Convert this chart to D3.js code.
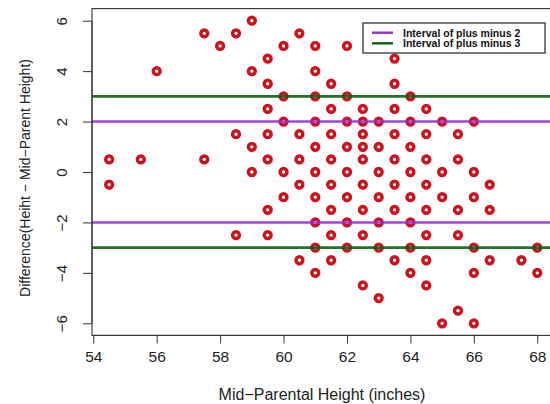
<!DOCTYPE html>
<html>
<head>
<meta charset="utf-8">
<script src="https://cdn.jsdelivr.net/npm/d3@7"></script>
<style>
	html, body { margin: 0; padding: 0; background: #fff; }
	svg { display: block; font-family: "Liberation Sans", Arial, Helvetica, sans-serif; }
</style>
</head>
<body>
<svg id="chart" width="550" height="404"></svg>
<script>
// chart size
const svgWidth = 550;
const svgHeight = 404;

// data: mid-parental height vs difference, one row per difference level
const midParent = [
	59,
	57.5, 58.5, 60.5,
	58, 60, 61, 62,
	59.5, 63.5,
	56, 59, 61,
	59.5, 61.5, 63.5,
	60, 61, 62, 64,
	59.5, 61.5, 62.5, 63.5, 64.5,
	60, 61, 62, 62.5, 63, 64, 65, 66,
	58.5, 59.5, 60.5, 61.5, 62.5, 63.5, 64.5, 65.5,
	59, 61, 62, 62.5, 63, 64,
	54.5, 55.5, 57.5, 59.5, 60.5, 61.5, 62.5, 63.5, 64.5, 65.5,
	59, 60, 61, 62, 63, 64, 65, 66,
	54.5, 60.5, 61.5, 62.5, 63.5, 64.5, 66.5,
	60, 61, 62, 63, 64, 65, 66,
	59.5, 61.5, 62.5, 63.5, 64.5, 65.5, 66.5,
	61, 62, 63, 64,
	58.5, 59.5, 61.5, 62.5, 64.5, 65.5,
	61, 62, 63, 64, 66, 68,
	60.5, 61.5, 63.5, 64.5, 66.5, 67.5,
	61, 64, 66, 68,
	62.5, 64.5,
	63,
	65.5,
	65, 66
];
const difference = [
	6,
	5.5, 5.5, 5.5,
	5, 5, 5, 5,
	4.5, 4.5,
	4, 4, 4,
	3.5, 3.5, 3.5,
	3, 3, 3, 3,
	2.5, 2.5, 2.5, 2.5, 2.5,
	2, 2, 2, 2, 2, 2, 2, 2,
	1.5, 1.5, 1.5, 1.5, 1.5, 1.5, 1.5, 1.5,
	1, 1, 1, 1, 1, 1,
	0.5, 0.5, 0.5, 0.5, 0.5, 0.5, 0.5, 0.5, 0.5, 0.5,
	0, 0, 0, 0, 0, 0, 0, 0,
	-0.5, -0.5, -0.5, -0.5, -0.5, -0.5, -0.5,
	-1, -1, -1, -1, -1, -1, -1,
	-1.5, -1.5, -1.5, -1.5, -1.5, -1.5, -1.5,
	-2, -2, -2, -2,
	-2.5, -2.5, -2.5, -2.5, -2.5, -2.5,
	-3, -3, -3, -3, -3, -3,
	-3.5, -3.5, -3.5, -3.5, -3.5, -3.5,
	-4, -4, -4, -4,
	-4.5, -4.5,
	-5,
	-5.5,
	-6, -6
];

// reference lines and legend
const intervalLabels = ["Interval of plus minus 2", "Interval of plus minus 3"];
const intervalValues = [2, 3];
const intervalColors = ["#9a2ed6", "#0a620f"];

// tick labels
const xTicks = [54, 56, 58, 60, 62, 64, 66, 68];
const yTicks = [-6, -4, -2, 0, 2, 4, 6];

// axis titles
const xTitle = "Mid\u2212Parental Height (inches)";
const yTitle = "Difference(Heiht \u2212 Mid\u2212Parent Height)";

// plot box (data range padded by 4%, like R)
const plotLeft = 92;
const plotRight = 554.4;
const plotTop = 8.6;
const plotBottom = 335.4;

var svg = d3.select("#chart");

var xScale = d3
	.scaleLinear()
	.domain([53.96, 68.54])
	.range([plotLeft, plotRight]);

var yScale = d3
	.scaleLinear()
	.domain([-6.48, 6.48])
	.range([plotBottom, plotTop]);

// clip for the plotting region
svg.append("clipPath")
	.attr("id", "plotClip")
	.append("rect")
	.attr("x", plotLeft)
	.attr("y", plotTop)
	.attr("width", plotRight - plotLeft)
	.attr("height", plotBottom - plotTop);

var plot = svg.append("g").attr("clip-path", "url(#plotClip)");

// points
var points = midParent.map(function (m, i) { return { x: m, y: difference[i] }; });

plot.selectAll(".pt")
	.data(points)
	.enter()
	.append("circle")
	.attr("class", "pt")
	.attr("cx", d => xScale(d.x))
	.attr("cy", d => yScale(d.y))
	.attr("r", 3.4)
	.attr("fill", "#fff")
	.attr("stroke", "#cc121a")
	.attr("stroke-width", 3.5);

// horizontal interval lines, drawn over points
intervalValues.forEach(function (v, i) {
	[v, -v].forEach(function (h) {
		plot.append("line")
			.attr("x1", plotLeft)
			.attr("x2", plotRight)
			.attr("y1", yScale(h))
			.attr("y2", yScale(h))
			.attr("stroke", intervalColors[i])
			.attr("stroke-opacity", 0.9)
			.attr("stroke-width", 2.6);
	});
});

// plot box
svg.append("rect")
	.attr("x", plotLeft)
	.attr("y", plotTop)
	.attr("width", plotRight - plotLeft)
	.attr("height", plotBottom - plotTop)
	.attr("fill", "none")
	.attr("stroke", "#333")
	.attr("stroke-width", 1.1);

// x axis
var xAxis = svg.append("g")
	.attr("transform", `translate(0,${plotBottom})`)
	.call(d3.axisBottom(xScale).tickValues(xTicks).tickSize(8).tickPadding(8).tickFormat(d3.format("d")));

xAxis.select(".domain")
	.attr("d", `M${xScale(54)},0H${xScale(68)}`)
	.attr("stroke", "#333");

xAxis.selectAll("text")
	.attr("font-size", 15.5)
	.attr("fill", "#222")
	.attr("font-family", null);

// y axis, labels rotated like R
var yAxis = svg.append("g")
	.attr("transform", `translate(${plotLeft},0)`)
	.call(d3.axisLeft(yScale).tickValues(yTicks).tickSize(9).tickFormat(d3.format("d")));

yAxis.select(".domain")
	.attr("d", `M0,${yScale(6)}V${yScale(-6)}`)
	.attr("stroke", "#333");

yAxis.selectAll("text")
	.attr("x", null)
	.attr("dy", null)
	.attr("font-size", 15)
	.attr("fill", "#222")
	.attr("font-family", null)
	.attr("text-anchor", "middle")
	.attr("transform", "translate(-25,0) rotate(-90)");

yAxis.selectAll(".tick line").attr("stroke", "#333");
xAxis.selectAll(".tick line").attr("stroke", "#333");

// axis titles
svg.append("text")
	.attr("x", 322)
	.attr("y", 400)
	.attr("text-anchor", "middle")
	.attr("font-size", 16)
	.attr("fill", "#222")
	.text(xTitle);

svg.append("text")
	.attr("transform", "translate(29.5,178) rotate(-90)")
	.attr("text-anchor", "middle")
	.attr("font-size", 14)
	.attr("fill", "#222")
	.text(yTitle);

// legend
var legend = svg.append("g");

legend.append("rect")
	.attr("x", 363)
	.attr("y", 23)
	.attr("width", 182)
	.attr("height", 30)
	.attr("fill", "#fff")
	.attr("stroke", "#333")
	.attr("stroke-width", 1.3);

intervalLabels.forEach(function (label, i) {
	var ly = 32.7 + i * 10.6;
	legend.append("line")
		.attr("x1", 372)
		.attr("x2", 393)
		.attr("y1", ly)
		.attr("y2", ly)
		.attr("stroke", intervalColors[i])
		.attr("stroke-width", 2.4);
	legend.append("text")
		.attr("x", 403)
		.attr("y", ly + 3.8)
		.attr("font-size", 10.5)
		.attr("font-weight", "bold")
		.attr("fill", "#111")
		.text(label);
});
</script>
</body>
</html>
